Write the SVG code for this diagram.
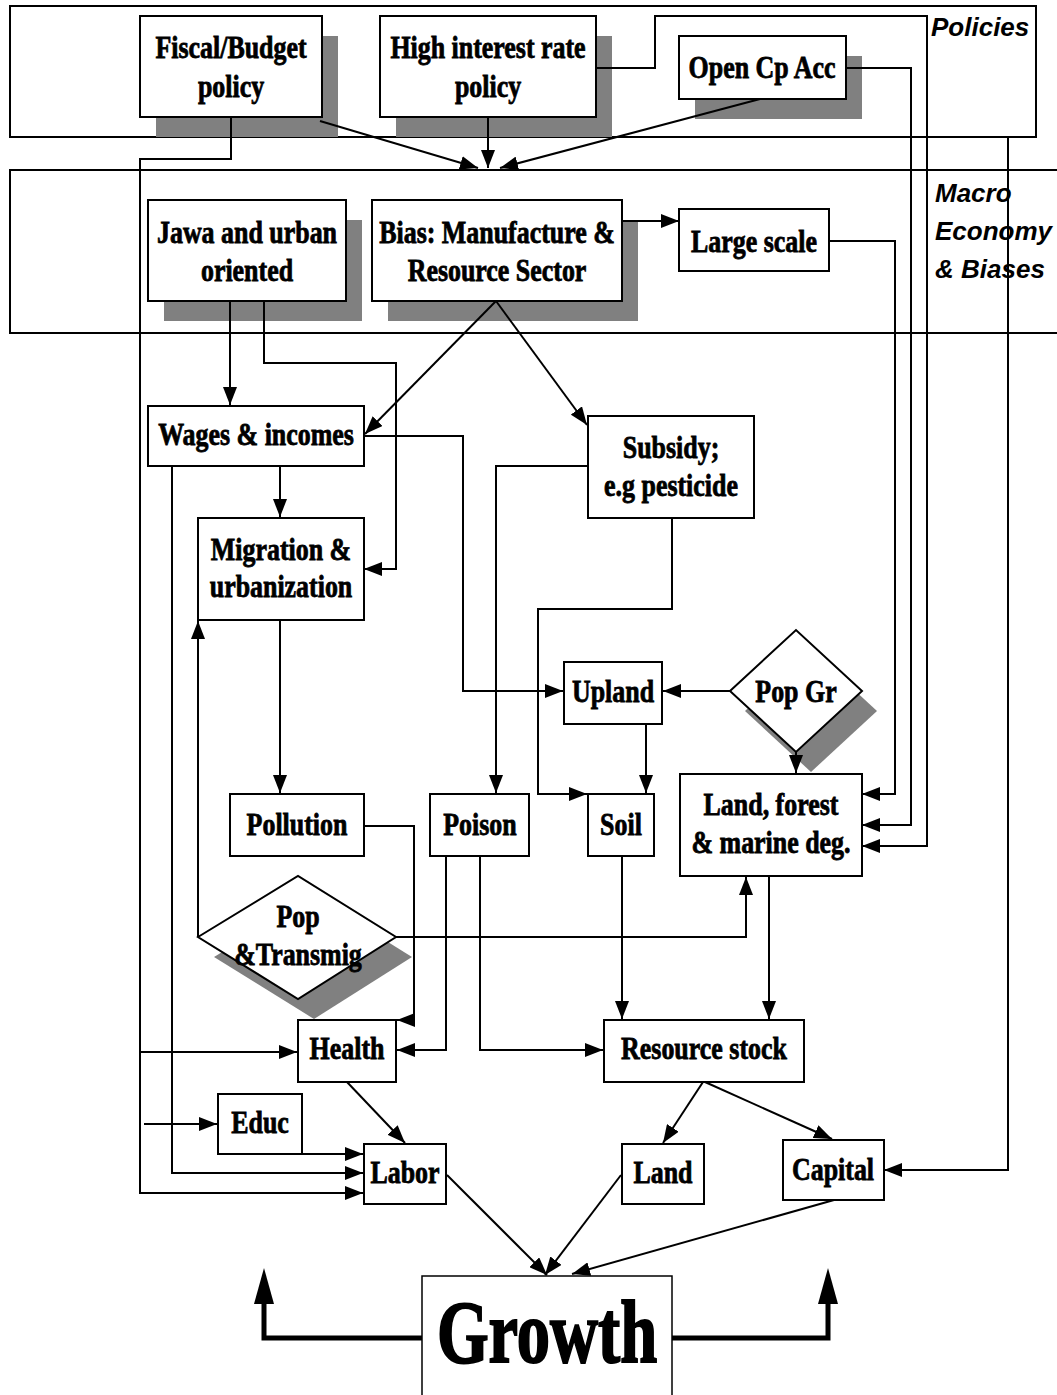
<svg xmlns="http://www.w3.org/2000/svg" width="1057" height="1395" viewBox="0 0 1057 1395">
<style>
.frame{fill:none;stroke:#000;stroke-width:2}
.lbl{font-family:"Liberation Sans",Arial,sans-serif;font-weight:bold;font-style:italic;font-size:26px;fill:#000}
.box{fill:#fff;stroke:#000;stroke-width:2}
.sh{fill:#808080;stroke:none}
.t{font-family:"Liberation Serif","Times New Roman",serif;font-weight:bold;font-size:32px;text-anchor:middle;fill:#000;stroke:#000;stroke-width:0.8}
.big{font-family:"Liberation Serif","Times New Roman",serif;font-weight:bold;font-size:88px;text-anchor:middle;fill:#000;stroke:#000;stroke-width:2}
.c{fill:none;stroke:#000;stroke-width:2;marker-end:url(#ah)}
.thick{fill:none;stroke:#000;stroke-width:5;marker-end:url(#bh)}
</style>
<defs>
<marker id="ah" markerUnits="userSpaceOnUse" markerWidth="18" markerHeight="14" viewBox="0 0 18 14" refX="18" refY="7" orient="auto"><path d="M0,0 L18,7 L0,14 z" fill="#000"/></marker>
<marker id="bh" markerUnits="userSpaceOnUse" markerWidth="36" markerHeight="20" viewBox="0 0 36 20" refX="14" refY="10" orient="auto"><path d="M0,0 L36,10 L0,20 z" fill="#000"/></marker>
</defs>
<rect width="1057" height="1395" fill="#fff"/>
<g id="frames">
<rect class="frame" x="10" y="6" width="1026" height="131"/>
<text class="lbl" x="931" y="36">Policies</text>
<rect class="frame" x="10" y="170" width="1060" height="163"/>
<text class="lbl" x="935" y="202">Macro</text>
<text class="lbl" x="935" y="240">Economy</text>
<text class="lbl" x="935" y="278">&amp; Biases</text>
</g>
<g id="fiscal"><rect class="sh" x="156" y="36" width="182" height="101"/><rect class="box" x="140" y="16" width="182" height="101"/>
<text class="t" transform="translate(231,58) scale(0.81,1)">Fiscal/Budget</text><text class="t" transform="translate(231,97) scale(0.81,1)">policy</text></g>
<g id="high"><rect class="sh" x="396" y="36" width="216" height="101"/><rect class="box" x="380" y="16" width="216" height="101"/>
<text class="t" transform="translate(488,58) scale(0.81,1)">High interest rate</text><text class="t" transform="translate(488,97) scale(0.81,1)">policy</text></g>
<g id="opencp"><rect class="sh" x="695" y="56" width="167" height="63"/><rect class="box" x="679" y="36" width="167" height="63"/>
<text class="t" transform="translate(762,78) scale(0.81,1)">Open Cp Acc</text></g>
<g id="jawa"><rect class="sh" x="164" y="220" width="198" height="101"/><rect class="box" x="148" y="200" width="198" height="101"/>
<text class="t" transform="translate(247,243) scale(0.81,1)">Jawa and urban</text><text class="t" transform="translate(247,281) scale(0.81,1)">oriented</text></g>
<g id="bias"><rect class="sh" x="388" y="220" width="250" height="101"/><rect class="box" x="372" y="200" width="250" height="101"/>
<text class="t" transform="translate(497,243) scale(0.81,1)">Bias: Manufacture &amp;</text><text class="t" transform="translate(497,281) scale(0.81,1)">Resource Sector</text></g>
<g id="largescale"><rect class="box" x="679" y="209" width="150" height="62"/>
<text class="t" transform="translate(754,252) scale(0.81,1)">Large scale</text></g>
<g id="wages"><rect class="box" x="148" y="406" width="216" height="60"/>
<text class="t" transform="translate(256,445) scale(0.81,1)">Wages &amp; incomes</text></g>
<g id="subsidy"><rect class="box" x="588" y="416" width="166" height="102"/>
<text class="t" transform="translate(671,458) scale(0.81,1)">Subsidy;</text><text class="t" transform="translate(671,496) scale(0.81,1)">e.g pesticide</text></g>
<g id="migration"><rect class="box" x="198" y="518" width="166" height="102"/>
<text class="t" transform="translate(281,560) scale(0.81,1)">Migration &amp;</text><text class="t" transform="translate(281,597) scale(0.81,1)">urbanization</text></g>
<g id="upland"><rect class="box" x="564" y="662" width="98" height="62"/>
<text class="t" transform="translate(613,702) scale(0.81,1)">Upland</text></g>
<g id="popgr"><polygon class="sh" points="745,711 811,650 877,711 811,772"/><polygon class="box" points="730,691 796,630 862,691 796,752"/>
<text class="t" transform="translate(796,702) scale(0.81,1)">Pop Gr</text></g>
<g id="pollution"><rect class="box" x="230" y="794" width="134" height="62"/>
<text class="t" transform="translate(297,835) scale(0.81,1)">Pollution</text></g>
<g id="poison"><rect class="box" x="430" y="794" width="99" height="62"/>
<text class="t" transform="translate(480,835) scale(0.81,1)">Poison</text></g>
<g id="soil"><rect class="box" x="588" y="794" width="66" height="62"/>
<text class="t" transform="translate(621,835) scale(0.81,1)">Soil</text></g>
<g id="landforest"><rect class="box" x="680" y="774" width="182" height="102"/>
<text class="t" transform="translate(771,815) scale(0.81,1)">Land, forest</text><text class="t" transform="translate(771,853) scale(0.81,1)">&amp; marine deg.</text></g>
<g id="poptrans"><polygon class="sh" points="214,957 314,896 412,957 314,1019"/><polygon class="box" points="198,937 298,876 396,937 298,999"/>
<text class="t" transform="translate(298,927) scale(0.81,1)">Pop</text><text class="t" transform="translate(298,965) scale(0.81,1)">&amp;Transmig</text></g>
<g id="health"><rect class="box" x="298" y="1020" width="98" height="62"/>
<text class="t" transform="translate(347,1059) scale(0.81,1)">Health</text></g>
<g id="resource"><rect class="box" x="604" y="1020" width="200" height="62"/>
<text class="t" transform="translate(704,1059) scale(0.81,1)">Resource stock</text></g>
<g id="educ"><rect class="box" x="218" y="1094" width="84" height="60"/>
<text class="t" transform="translate(260,1133) scale(0.81,1)">Educ</text></g>
<g id="labor"><rect class="box" x="364" y="1144" width="82" height="60"/>
<text class="t" transform="translate(405,1183) scale(0.81,1)">Labor</text></g>
<g id="land"><rect class="box" x="622" y="1144" width="82" height="60"/>
<text class="t" transform="translate(663,1183) scale(0.81,1)">Land</text></g>
<g id="capital"><rect class="box" x="783" y="1140" width="101" height="60"/>
<text class="t" transform="translate(833,1180) scale(0.81,1)">Capital</text></g>
<g id="growth"><rect x="422" y="1276" width="250" height="130" fill="#fff" stroke="#000" stroke-width="1.5"/>
<text class="big" transform="translate(547,1362) scale(0.755,1)">Growth</text></g>
<g id="connectors">
<path class="c" d="M320,121 L478,168"/>
<path class="c" d="M488,117 L488,168"/>
<path class="c" d="M760,99 L500,168"/>
<path class="c" d="M596,68 L655,68 L655,16 L927,16 L927,846 L862,846"/>
<path class="c" d="M846,68 L911,68 L911,825 L862,825"/>
<path class="c" d="M231,117 L231,159 L140,159 L140,1193 L363,1193"/>
<path class="c" d="M140,1052 L297,1052"/>
<path class="c" d="M144,1124 L217,1124"/>
<path class="c" d="M1008,137 L1008,1170 L884,1170"/>
<path class="c" d="M622,221 L679,221"/>
<path class="c" d="M829,241 L895,241 L895,794 L862,794"/>
<path class="c" d="M230,301 L230,405"/>
<path class="c" d="M264,301 L264,363 L396,363 L396,569 L364,569"/>
<path class="c" d="M496,301 L365,434"/>
<path class="c" d="M496,301 L587,425"/>
<path class="c" d="M280,466 L280,517"/>
<path class="c" d="M364,436 L463,436 L463,691 L563,691"/>
<path class="c" d="M172,466 L172,1173 L363,1173"/>
<path class="c" d="M588,466 L496,466 L496,793"/>
<path class="c" d="M672,518 L672,609 L538,609 L538,794 L587,794"/>
<path class="c" d="M730,691 L663,691"/>
<path class="c" d="M646,724 L646,793"/>
<path class="c" d="M796,752 L796,773"/>
<path class="c" d="M280,620 L280,793"/>
<path class="c" d="M198,937 L198,621"/>
<path class="c" d="M396,937 L746,937 L746,877"/>
<path class="c" d="M364,826 L414,826 L414,1020 L397,1020"/>
<path class="c" d="M446,856 L446,1050 L397,1050"/>
<path class="c" d="M480,856 L480,1050 L603,1050"/>
<path class="c" d="M622,856 L622,1019"/>
<path class="c" d="M769,876 L769,1019"/>
<path class="c" d="M347,1082 L405,1143"/>
<path class="c" d="M302,1154 L363,1154"/>
<path class="c" d="M447,1175 L547,1275"/>
<path class="c" d="M703,1082 L663,1143"/>
<path class="c" d="M705,1082 L832,1139"/>
<path class="c" d="M621,1175 L545,1275"/>
<path class="c" d="M834,1200 L572,1274"/>
<path class="thick" d="M422,1338 L264,1338 L264,1290"/>
<path class="thick" d="M672,1338 L828,1338 L828,1290"/>
</g>
</svg>
